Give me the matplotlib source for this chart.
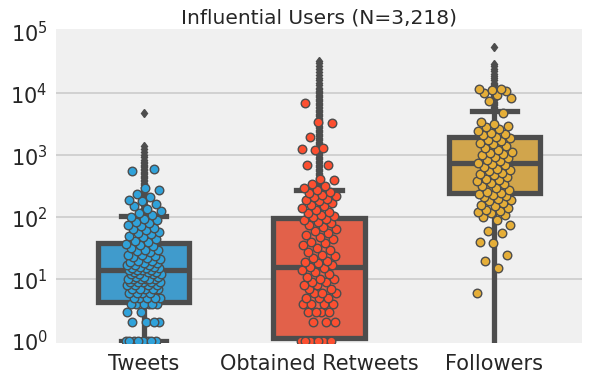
#!/usr/bin/env python3
import numpy as np
import matplotlib
matplotlib.use("Agg")
import matplotlib.pyplot as plt

# Categories and colours
categories = ["Tweets", "Obtained Retweets", "Followers"]
point_colors = ["#30a2da", "#fc4f30", "#e5ae38"]
box_colors = ["#409bcc", "#e2614a", "#d1a54c"]
gray = "#4d4d4d"

# Box statistics
q1 = [4.3, 1.1, 250]
med = [14, 16, 740]
q3 = [39, 98, 1950]
whislo = [1, 0, 0]
whishi = [106, 280, 5300]

# Outliers (diamonds)
tweets_fliers = [110, 116, 122, 128, 135, 142, 150, 158, 166, 175, 185, 195, 205, 216,
                 228, 240, 253, 266, 280, 295, 311, 328, 345, 363, 382, 402, 423, 445,
                 468, 493, 519, 546, 575, 605, 637, 670, 705, 742, 790, 850, 940, 1020,
                 1120, 1250, 1400, 4800]
retweets_fliers = [290, 305, 320, 337, 354, 372, 391, 411, 432, 454, 477, 501, 527, 554,
                   582, 612, 643, 676, 710, 747, 785, 825, 867, 911, 958, 1007, 1058, 1112,
                   1169, 1229, 1292, 1358, 1427, 1500, 1577, 1657, 1742, 1831, 1925, 2023,
                   2126, 2235, 2349, 2469, 2595, 2728, 2867, 3014, 3168, 3330, 3500, 3680,
                   3870, 4070, 4280, 4500, 4730, 4970, 5230, 5500, 5780, 6080, 6390, 6720,
                   7060, 7420, 7800, 8200, 8620, 9060, 9520, 10000, 10500, 11100, 11700,
                   12300, 13500, 15000, 16500, 18000, 20000, 22000, 24500, 27500, 31000,
                   34000]
followers_fliers = [5500, 5800, 6100, 6400, 6700, 7000, 7400, 7800, 8200, 8600, 9000, 9500,
                    10000, 10500, 11000, 11600, 12200, 12800, 13500, 14200, 15000, 16500,
                    18000, 19500, 21000, 23000, 25000, 27500, 30000, 57000]

# Individual users shown as points
tweets_pts = [1, 1, 1, 1, 1, 1, 1, 1, 2, 2, 2, 2, 3, 3, 4, 4, 4, 4, 4, 4,
              5, 5, 5, 5, 5, 6, 6, 6, 6, 7, 7, 7, 7, 7, 8, 8, 8, 8, 9, 9, 9, 9, 9,
              10, 10, 10, 10, 10, 10, 11, 11, 11, 12, 12, 12, 12, 13, 13, 13, 14, 14,
              14, 14, 15, 15, 15, 16, 16, 17, 17, 17, 18, 18, 19, 20, 20, 21, 22, 23,
              24, 25, 25, 27, 28, 30, 30, 32, 34, 35, 37, 40, 42, 45, 48, 50, 53, 55,
              58, 62, 65, 68, 72, 75, 80, 85, 90, 95, 100, 110, 118, 125, 135, 150,
              165, 180, 190, 210, 240, 280, 300, 560, 600]
retweets_pts = [1, 1, 1, 1, 1, 1, 2, 2, 2, 3, 3, 3, 3, 4, 4, 4, 4, 5, 5, 5, 6, 6, 6,
                7, 7, 8, 8, 9, 9, 10, 10, 11, 12, 13, 14, 15, 16, 17, 18, 19, 20, 22, 24,
                25, 27, 30, 32, 35, 38, 40, 44, 48, 52, 56, 60, 65, 70, 75, 80, 85, 90,
                95, 100, 105, 110, 115, 120, 130, 140, 150, 160, 170, 180, 190, 200, 210,
                220, 230, 250, 260, 280, 300, 320, 350, 400, 420, 690, 700, 1200, 1250,
                1300, 2000, 3300, 3400, 6900]
followers_pts = [6, 15, 20, 25, 38, 40, 55, 60, 75, 90, 100, 110, 115, 120, 125, 130,
                 140, 150, 160, 170, 180, 190, 200, 210, 220, 230, 240, 250, 260, 280,
                 300, 320, 340, 360, 380, 400, 420, 450, 480, 500, 520, 550, 580, 600,
                 650, 700, 720, 750, 800, 850, 900, 950, 1000, 1050, 1100, 1150, 1200,
                 1300, 1400, 1500, 1600, 1700, 1800, 1900, 2000, 2100, 2200, 2300, 2500,
                 2700, 2900, 3000, 3200, 3500, 4800, 7500, 8500, 9500, 10000, 11000,
                 11500, 12000, 12000]

fliers = [tweets_fliers, retweets_fliers, followers_fliers]
points = [tweets_pts, retweets_pts, followers_pts]

fig = plt.figure(figsize=(5.89, 3.81), dpi=100, facecolor="white")
ax = fig.add_axes([56 / 589, 1 - 343 / 381, 526 / 589, 314 / 381])
ax.set_facecolor("#f0f0f0")
ax.set_yscale("log")

stats = []
for i, name in enumerate(categories):
    stats.append(dict(label=name, q1=q1[i], med=med[i], q3=q3[i],
                      whislo=whislo[i], whishi=whishi[i], fliers=fliers[i]))

lw = 3.8
bp = ax.bxp(stats, positions=range(3), widths=0.52, patch_artist=True,
            boxprops=dict(edgecolor=gray, linewidth=lw),
            medianprops=dict(color=gray, linewidth=lw),
            whiskerprops=dict(color=gray, linewidth=lw, solid_capstyle="butt"),
            capprops=dict(color=gray, linewidth=lw),
            flierprops=dict(marker="d", markerfacecolor=gray, markeredgecolor=gray,
                            markersize=4.5, linestyle="none"),
            zorder=2)
for patch, c in zip(bp["boxes"], box_colors):
    patch.set_facecolor(c)

# strip points, deterministic jitter around each category
for i, vals in enumerate(points):
    n = len(vals)
    jit = ((np.arange(n) * 0.6180339887) % 1.0 - 0.5) * 0.2
    ax.scatter(i + jit, vals, s=38, color=point_colors[i], edgecolor=gray,
               linewidth=1.0, zorder=3, clip_on=True)

ax.set_xlim(-0.5, 2.5)
ax.set_ylim(0.93, 1.1e5)
ax.set_xticks(range(3))
ax.set_xticklabels(categories)
ax.set_yticks([1, 10, 100, 1000, 10000, 100000])
ax.yaxis.grid(True, color="#cbcbcb", linewidth=1.2)
ax.xaxis.grid(False)
ax.set_axisbelow(True)
ax.tick_params(axis="both", length=0, labelsize=15, colors="#262626")
ax.tick_params(axis="y", pad=6)
ax.tick_params(axis="x", pad=8)
ax.minorticks_off()
for s in ax.spines.values():
    s.set_visible(False)

# no grid lines at the very bottom and top of the axis
gl = ax.yaxis.get_gridlines()
gl[0].set_visible(False)
gl[-1].set_visible(False)

ax.set_title("Influential Users (N=3,218)", fontsize=14.5, color="#262626", pad=4)

fig.savefig("out.png", dpi=100, facecolor="white")
